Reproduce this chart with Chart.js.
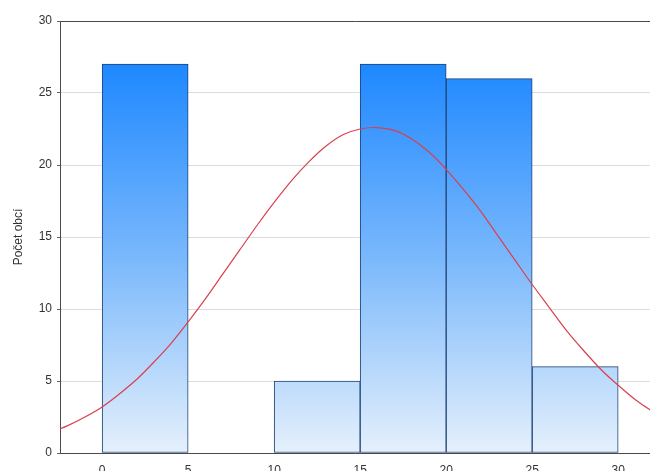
<!DOCTYPE html>
<html>
<head>
<meta charset="utf-8">
<script src="https://cdn.jsdelivr.net/npm/chart.js@4/dist/chart.umd.min.js"></script>
<style>
  html, body { margin: 0; padding: 0; background: #fff; overflow: hidden; }
  #wrap { position: absolute; left: 0; top: 0; width: 650px; height: 485px; }
</style>
</head>
<body>
<div id="wrap"><canvas id="chart"></canvas></div>
<script>
// Histogram bins (lower edge, upper edge) and number of municipalities in each
const binStarts = [0, 5, 10, 15, 20, 25];
const binEnds   = [5, 10, 15, 20, 25, 30];
const counts    = [27, 0, 5, 27, 26, 6];

// Fitted normal curve, sampled along the x axis
const curveX = [-3, -2, -1, 0, 1, 2, 3, 4, 5, 6, 7, 8, 9, 10, 11, 12, 13, 14, 15, 16, 17,
                18, 19, 20, 21, 22, 23, 24, 25, 26, 27, 28, 29, 30, 31, 32, 33];
const curveY = [1.4, 1.9, 2.5, 3.2, 4.1, 5.1, 6.3, 7.6, 9.1, 10.7, 12.4, 14.1, 15.8, 17.4, 18.9, 20.2, 21.3, 22.1, 22.5, 22.6, 22.4,
                21.8, 20.9, 19.7, 18.3, 16.8, 15.1, 13.4, 11.7, 10.1, 8.5, 7.1, 5.8, 4.7, 3.7, 2.9, 2.3];

// Axis tick labels
const xTicks = [0, 5, 10, 15, 20, 25, 30];
const yTicks = [0, 5, 10, 15, 20, 25, 30];
const yTitle = 'Počet obcí';

const FONT = '"Liberation Sans", Arial, sans-serif';

const barData = binStarts.map((s, i) => ({ x: (s + binEnds[i]) / 2, y: counts[i] }));
const lineData = curveX.map((x, i) => ({ x: x, y: curveY[i] }));

function barGradient(context) {
  const chart = context.chart;
  const area = chart.chartArea;
  if (!area) return '#6fb2fb';
  const y = chart.scales.y;
  const g = chart.ctx.createLinearGradient(0, y.getPixelForValue(27), 0, y.getPixelForValue(0));
  g.addColorStop(0, '#1e88ff');
  g.addColorStop(0.5, '#7ab8fc');
  g.addColorStop(1, '#e5f0fc');
  return g;
}

const keepTicks = (list) => (scale) => {
  scale.ticks = list.map(v => ({ value: v }));
};

new Chart(document.getElementById('chart'), {
  type: 'bar',
  data: {
    datasets: [
      {
        type: 'line',
        data: lineData,
        borderColor: '#d8404e',
        borderWidth: 1.2,
        pointRadius: 0,
        tension: 0.3,
        fill: false,
        order: 0
      },
      {
        type: 'bar',
        data: barData,
        backgroundColor: barGradient,
        borderColor: '#1f4275',
        borderWidth: 1,
        borderSkipped: false,
        barPercentage: 1,
        categoryPercentage: 1,
        order: 1
      }
    ]
  },
  options: {
    responsive: true,
    maintainAspectRatio: false,
    animation: false,
    events: [],
    layout: { padding: { top: 21, right: 0, left: 0, bottom: 0 } },
    plugins: { legend: { display: false }, tooltip: { enabled: false } },
    scales: {
      x: {
        type: 'linear',
        position: 'bottom',
        offset: false,
        min: -2.45,
        max: 31.85,
        afterBuildTicks: keepTicks(xTicks),
        afterFit: (s) => { s.height = 32; },
        grid: { display: false, drawTicks: false, offset: false },
        border: { display: true, color: '#4a4a4a', width: 1 },
        ticks: { color: '#333', padding: 10, font: { family: FONT, size: 12 }, maxRotation: 0 }
      },
      xTop: {
        type: 'linear',
        position: 'top',
        offset: false,
        min: -2.45,
        max: 31.85,
        afterFit: (s) => { s.height = 0; },
        grid: { display: false, drawTicks: false },
        border: { display: true, color: '#4a4a4a', width: 1 },
        ticks: { display: false }
      },
      y: {
        type: 'linear',
        min: 0,
        max: 30,
        afterBuildTicks: keepTicks(yTicks),
        afterFit: (s) => { s.width = 60; },
        grid: { color: '#dcdcdc', tickColor: '#666', tickLength: 3, lineWidth: 1 },
        border: { display: true, color: '#4a4a4a', width: 1 },
        ticks: { color: '#333', padding: 5, font: { family: FONT, size: 12 } },
        title: {
          display: true,
          text: yTitle,
          color: '#333',
          font: { family: FONT, size: 12 },
          padding: { top: 11, bottom: 0 }
        }
      }
    }
  }
});
</script>
</body>
</html>
